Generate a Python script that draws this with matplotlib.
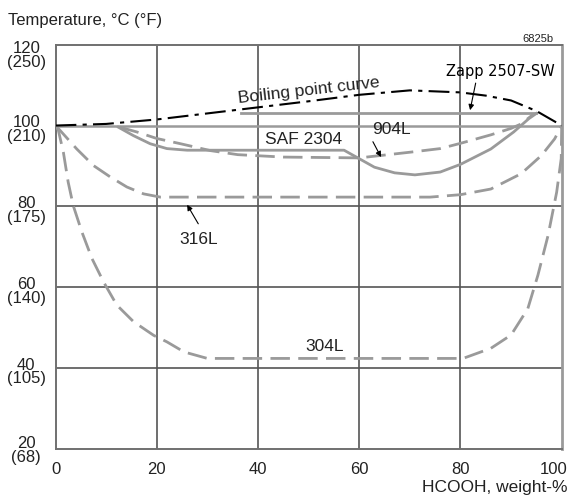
import matplotlib
matplotlib.use("Agg")
import matplotlib.pyplot as plt
import matplotlib.transforms as mtransforms

plt.rcParams['font.family'] = ['Liberation Sans', 'DejaVu Sans']

# HCOOH weight-% vs temperature (deg C)
boil_x = [0, 10, 20, 30, 40, 50, 60, 70, 80, 85, 90, 95, 100]
boil_t = [100, 100.4, 101.5, 103, 104.5, 106, 107.6, 108.7, 108.2, 107.4, 106.2, 103.6, 100]

zapp_x = [36.6, 95]
zapp_t = [103, 103]

saf_x = [12.4, 15.4, 18.7, 22, 26, 57, 60, 63, 67, 71, 76, 80, 86, 90.5, 93.5, 95]
saf_t = [99.6, 97.5, 95.5, 94.3, 93.9, 93.9, 91.8, 89.7, 88.3, 87.8, 88.5, 90.4, 94.2, 98.4, 101.7, 103]

l904_x = [12.7, 16.1, 20, 24.7, 30.6, 36, 45, 60, 70, 76, 80, 86, 90, 92, 94.5]
l904_t = [99.6, 98.4, 96.8, 95.5, 93.8, 92.8, 92.2, 92.0, 93.4, 94.3, 95.6, 97.7, 99.3, 100.4, 102.9]

l316_x = [0, 0.9, 4.2, 7.5, 10.8, 14.1, 17.4, 20.7, 24, 74, 80, 86, 92, 96, 98.6, 100]
l316_t = [100, 98.8, 94.2, 90.1, 87.3, 84.8, 83.1, 82.3, 82.3, 82.3, 82.9, 84.3, 88.1, 92.6, 96.7, 100]

l304_x = [0, 0.56, 1.55, 2.5, 3.5, 5.2, 7.2, 9.5, 12.1, 15.4, 19.4, 22, 25.4, 30,
          80.5, 86, 90, 93.3, 95.3, 97.3, 99, 99.9, 100]
l304_t = [100, 98.8, 93.4, 86.0, 80.2, 73.7, 67.1, 61.3, 55.6, 51.5, 48.1, 46.5, 44.0, 42.4,
          42.4, 44.9, 48.2, 54.7, 63, 72.8, 83.5, 91.8, 100]

xticks = [0, 20, 40, 60, 80, 100]
yticks = [20, 40, 60, 80, 100, 120]
ylabels = ['20\n(68)', '40\n(105)', '60\n(140)', '80\n(175)', '100\n(210)', '120\n(250)']

grey = '#9a9a9a'
grid = '#555555'
txt = '#222222'

fig = plt.figure(figsize=(5.73, 5.02), dpi=100)
ax = fig.add_axes([0.0969, 0.1036, 0.8834, 0.8054])
ax.set_xlim(0, 100)
ax.set_ylim(20, 120)

for gx in [20, 40, 60, 80]:
    ax.axvline(gx, color=grid, lw=1.2, zorder=1)
for gy in [40, 60, 80]:
    ax.axhline(gy, color=grid, lw=1.2, zorder=1)
ax.axhline(100, color=grey, lw=1.8, zorder=1)

for s in ['left', 'top', 'bottom']:
    ax.spines[s].set_color('#707070')
    ax.spines[s].set_linewidth(1.4)
ax.spines['right'].set_color(grey)
ax.spines['right'].set_linewidth(2)

dash = (0, (7, 3))
ax.plot(l304_x, l304_t, color=grey, lw=2.0, ls=dash, zorder=3)
ax.plot(l316_x, l316_t, color=grey, lw=2.0, ls=dash, zorder=3)
ax.plot(l904_x, l904_t, color=grey, lw=2.0, ls=dash, zorder=3)
ax.plot(saf_x, saf_t, color=grey, lw=2.0, zorder=3)
ax.plot(zapp_x, zapp_t, color=grey, lw=2.0, zorder=3)
ax.plot(boil_x, boil_t, color='black', lw=1.5, ls=(0, (10, 3, 2, 3)), zorder=4)

ax.set_xticks(xticks)
ax.set_xticklabels([str(v) for v in xticks], fontsize=12, color=txt)
ax.set_yticks(yticks)
ax.set_yticklabels(ylabels, fontsize=12, color=txt, ha='center',
                   multialignment='center', linespacing=0.9)
ax.tick_params(axis='x', length=0, pad=9)
ax.tick_params(axis='y', length=0, pad=21)

# nudge a few tick labels the way the original sits
for lab, v in zip(ax.get_yticklabels(), yticks):
    dy = -9 if v == 120 else (-2 if v != 20 else 0)
    lab.set_transform(lab.get_transform() + mtransforms.ScaledTranslation(0, dy / 100, fig.dpi_scale_trans))
for lab, v in zip(ax.get_xticklabels(), xticks):
    if v == 100:
        lab.set_transform(lab.get_transform() + mtransforms.ScaledTranslation(-8 / 100, 0, fig.dpi_scale_trans))

ax.text(50.1, 108.9, 'Boiling point curve', fontsize=12.5, color=txt, rotation=6.5,
        ha='center', va='center', zorder=5)
ax.text(49.1, 96.7, 'SAF 2304', fontsize=12.5, color=txt, ha='center', va='center', zorder=5)
ax.text(66.3, 99.2, '904L', fontsize=12.5, color=txt, ha='center', va='center', zorder=5)
ax.text(28.2, 72.0, '316L', fontsize=12.5, color=txt, ha='center', va='center', zorder=5)
ax.text(53.2, 45.7, '304L', fontsize=12.5, color=txt, ha='center', va='center', zorder=5)
ax.text(87.9, 113.7, 'Zapp 2507-SW', fontsize=10.5, color='black', ha='center', va='center',
        family='DejaVu Sans', zorder=5)

arrow = dict(arrowstyle='-|>', color='black', lw=0.8, mutation_scale=8, shrinkA=0, shrinkB=0)
ax.annotate('', xy=(81.9, 103.8), xytext=(83.0, 110.5), arrowprops=arrow, zorder=5)
ax.annotate('', xy=(64.3, 92.2), xytext=(62.7, 96.0), arrowprops=arrow, zorder=5)
ax.annotate('', xy=(26.0, 80.4), xytext=(28.2, 75.7), arrowprops=arrow, zorder=5)

fig.text(8 / 573, 1 - 21 / 502, 'Temperature, \u00b0C (\u00b0F)', fontsize=12, color=txt,
         ha='left', va='center')
fig.text(568 / 573, 1 - 488 / 502, 'HCOOH, weight-%', fontsize=12.5, color=txt,
         ha='right', va='center')
fig.text(538 / 573, 1 - 39 / 502, '6825b', fontsize=8, color=txt, ha='center', va='center')

fig.savefig('out.png', dpi=100)
